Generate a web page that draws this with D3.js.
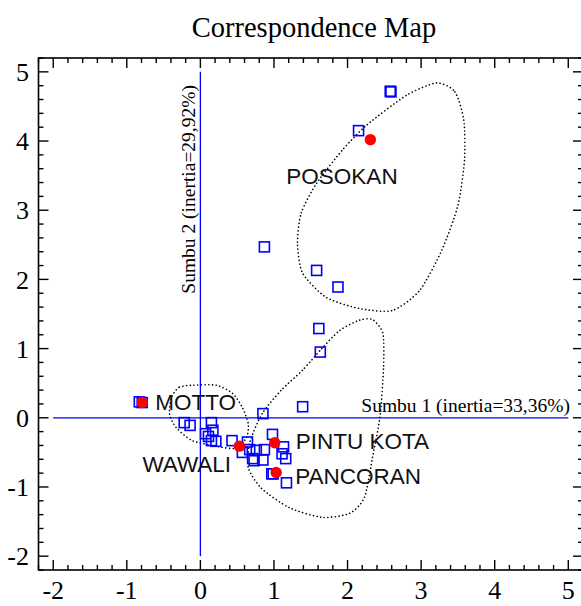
<!DOCTYPE html>
<html>
<head>
<meta charset="utf-8">
<script src="https://cdn.jsdelivr.net/npm/d3@7"></script>
<style>
html,body{margin:0;padding:0;background:#fff;}
svg{display:block;}
</style>
</head>
<body>
<svg id="chart" width="581" height="606"></svg>
<script>
// ---------- data ----------
const title = "Correspondence Map";
const axis1Label = "Sumbu 1 (inertia=33,36%)";
const axis2Label = "Sumbu 2 (inertia=29,92%)";
const xTicks = [-2, -1, 0, 1, 2, 3, 4, 5];
const yTicks = [-2, -1, 0, 1, 2, 3, 4, 5];

// row points (red)
const rowNames = ["POSOKAN", "MOTTO", "WAWALI", "PINTU KOTA", "PANCORAN"];
const rowX = [2.31, -0.79, 0.53, 1.01, 1.03];
const rowY = [4.02, 0.22, -0.41, -0.36, -0.79];

// column points (blue squares)
const colX = [2.59, 2.58, 2.15, 0.87, 1.58, 1.87, 1.61, 1.63, 1.39, 0.85,
  -0.83, -0.79, -0.22, -0.14, 0.15, 0.17, 0.07, 0.11, 0.15, 0.21,
  0.43, 0.64, 0.57, 0.67, 0.76, 0.87, 0.71, 0.73, 0.85, 0.98,
  1.13, 1.11, 1.16, 0.97, 0.99, 1.17];
const colY = [4.71, 4.72, 4.15, 2.47, 2.13, 1.89, 1.29, 0.95, 0.16, 0.06,
  0.23, 0.22, -0.07, -0.11, -0.07, -0.18, -0.23, -0.27, -0.33, -0.34,
  -0.33, -0.35, -0.50, -0.46, -0.47, -0.46, -0.59, -0.62, -0.61, -0.24,
  -0.42, -0.52, -0.59, -0.81, -0.81, -0.94];

// dotted cluster outlines
const hullPosokanX = [3.21, 3.46, 3.58, 3.59, 3.50, 3.28, 2.98, 2.61, 2.16, 1.71, 1.39, 1.32, 1.37, 1.58, 1.93, 2.26, 2.80];
const hullPosokanY = [4.84, 4.71, 4.30, 3.73, 3.07, 2.42, 1.84, 1.55, 1.58, 1.74, 2.09, 2.52, 2.96, 3.39, 3.87, 4.23, 4.66];
const hullPintuX = [1.39, 1.65, 1.89, 2.16, 2.34, 2.48, 2.49, 2.44, 2.34, 2.23, 2.03, 1.66, 1.21, 0.83, 0.65, 0.67, 0.84, 1.10];
const hullPintuY = [0.69, 1.00, 1.26, 1.41, 1.42, 1.22, 0.73, 0.01, -0.57, -1.15, -1.38, -1.44, -1.30, -1.02, -0.72, -0.36, 0.06, 0.40];
const hullMottoX = [-0.11, -0.29, -0.39, -0.42, -0.33, -0.11, 0.26, 0.49, 0.63, 0.65, 0.57, 0.44, 0.22];
const hullMottoY = [0.47, 0.44, 0.30, 0.06, -0.14, -0.33, -0.42, -0.44, -0.28, -0.08, 0.15, 0.35, 0.47];

// ---------- layout ----------
const svg = d3.select("#chart");
const plot = {left: 38.5, right: 583, top: 58, bottom: 570};
const x = d3.scaleLinear().domain([-2.2, 5.2]).range([plot.left, plot.right]);
const y = d3.scaleLinear().domain([-2.2, 5.2]).range([plot.bottom, plot.top]);
const labelOffsets = {
  "POSOKAN": [-84, 44], "MOTTO": [13, 7], "WAWALI": [-97, 26],
  "PINTU KOTA": [21, 6], "PANCORAN": [19, 12]
};
const serif = "Liberation Serif, Times New Roman, serif";
const sans = "Liberation Sans, Arial, sans-serif";

// title
svg.append("text").attr("x", 314).attr("y", 37).attr("text-anchor", "middle")
  .attr("font-family", serif).attr("font-size", 28.5).attr("fill", "#000").text(title);

// dotted outlines
const hullLine = d3.line().x(d => x(d[0])).y(d => y(d[1])).curve(d3.curveCardinalClosed.tension(0.3));
[[hullPosokanX, hullPosokanY], [hullPintuX, hullPintuY], [hullMottoX, hullMottoY]].forEach(([hx, hy]) => {
  svg.append("path").attr("d", hullLine(hx.map((v, i) => [v, hy[i]])))
    .attr("fill", "none").attr("stroke", "#000").attr("stroke-width", 1.6)
    .attr("stroke-dasharray", "0.1,3.6").attr("stroke-linecap", "round");
});

// blue origin lines
svg.append("line").attr("x1", x(-2)).attr("x2", x(5)).attr("y1", y(0)).attr("y2", y(0))
  .attr("stroke", "#0000ff").attr("stroke-width", 1.3);
svg.append("line").attr("x1", x(0)).attr("x2", x(0)).attr("y1", y(5)).attr("y2", y(-2))
  .attr("stroke", "#0000ff").attr("stroke-width", 1.3);

// axis labels
svg.append("text").attr("x", 570).attr("y", 411.5).attr("text-anchor", "end")
  .attr("font-family", serif).attr("font-size", 19.5).attr("fill", "#000").text(axis1Label);
svg.append("text").attr("transform", `translate(${x(0) - 5},85) rotate(-90)`).attr("text-anchor", "end")
  .attr("font-family", serif).attr("font-size", 19.5).attr("fill", "#000").text(axis2Label);

// column points
svg.append("g").selectAll("rect").data(colX.map((v, i) => [v, colY[i]])).join("rect")
  .attr("x", d => x(d[0]) - 5).attr("y", d => y(d[1]) - 5).attr("width", 10).attr("height", 10)
  .attr("fill", "none").attr("stroke", "#0000ff").attr("stroke-width", 1.6);

// row points
svg.append("g").selectAll("circle").data(rowNames.map((n, i) => ({n, x: rowX[i], y: rowY[i]}))).join("circle")
  .attr("cx", d => x(d.x)).attr("cy", d => y(d.y)).attr("r", 5.7).attr("fill", "#ff0000");

svg.append("g").selectAll("text").data(rowNames.map((n, i) => ({n, x: rowX[i], y: rowY[i]}))).join("text")
  .attr("x", d => x(d.x) + labelOffsets[d.n][0]).attr("y", d => y(d.y) + labelOffsets[d.n][1])
  .attr("font-family", sans).attr("font-size", 22.5).attr("fill", "#111").text(d => d.n);

// frame with inward ticks on all four sides
const axG = svg.append("g").attr("stroke", "#000").attr("fill", "none");
axG.append("rect").attr("x", plot.left).attr("y", plot.top)
  .attr("width", plot.right - plot.left).attr("height", plot.bottom - plot.top).attr("stroke-width", 1.6);

const minorX = d3.range(-22, 53, 2).map(v => v / 10);
const minorY = d3.range(-22, 53, 2).map(v => v / 10);
const isMajor = v => Math.abs(v - Math.round(v)) < 1e-6;
minorX.forEach(v => {
  const len = isMajor(v) ? 10 : 5;
  axG.append("line").attr("x1", x(v)).attr("x2", x(v)).attr("y1", plot.bottom).attr("y2", plot.bottom - len).attr("stroke-width", 1.4);
  axG.append("line").attr("x1", x(v)).attr("x2", x(v)).attr("y1", plot.top).attr("y2", plot.top + len).attr("stroke-width", 1.4);
});
minorY.forEach(v => {
  const len = isMajor(v) ? 10 : 5;
  axG.append("line").attr("y1", y(v)).attr("y2", y(v)).attr("x1", plot.left).attr("x2", plot.left + len).attr("stroke-width", 1.4);
  axG.append("line").attr("y1", y(v)).attr("y2", y(v)).attr("x1", plot.right).attr("x2", plot.right - len).attr("stroke-width", 1.4);
});

// tick labels
svg.append("g").selectAll("text").data(xTicks).join("text")
  .attr("x", d => x(d)).attr("y", 599).attr("text-anchor", "middle")
  .attr("font-family", serif).attr("font-size", 26).attr("fill", "#000").text(d => d);
svg.append("g").selectAll("text").data(yTicks).join("text")
  .attr("x", 29).attr("y", d => y(d)).attr("dy", "0.35em").attr("text-anchor", "end")
  .attr("font-family", serif).attr("font-size", 26).attr("fill", "#000").text(d => d);
</script>
</body>
</html>
